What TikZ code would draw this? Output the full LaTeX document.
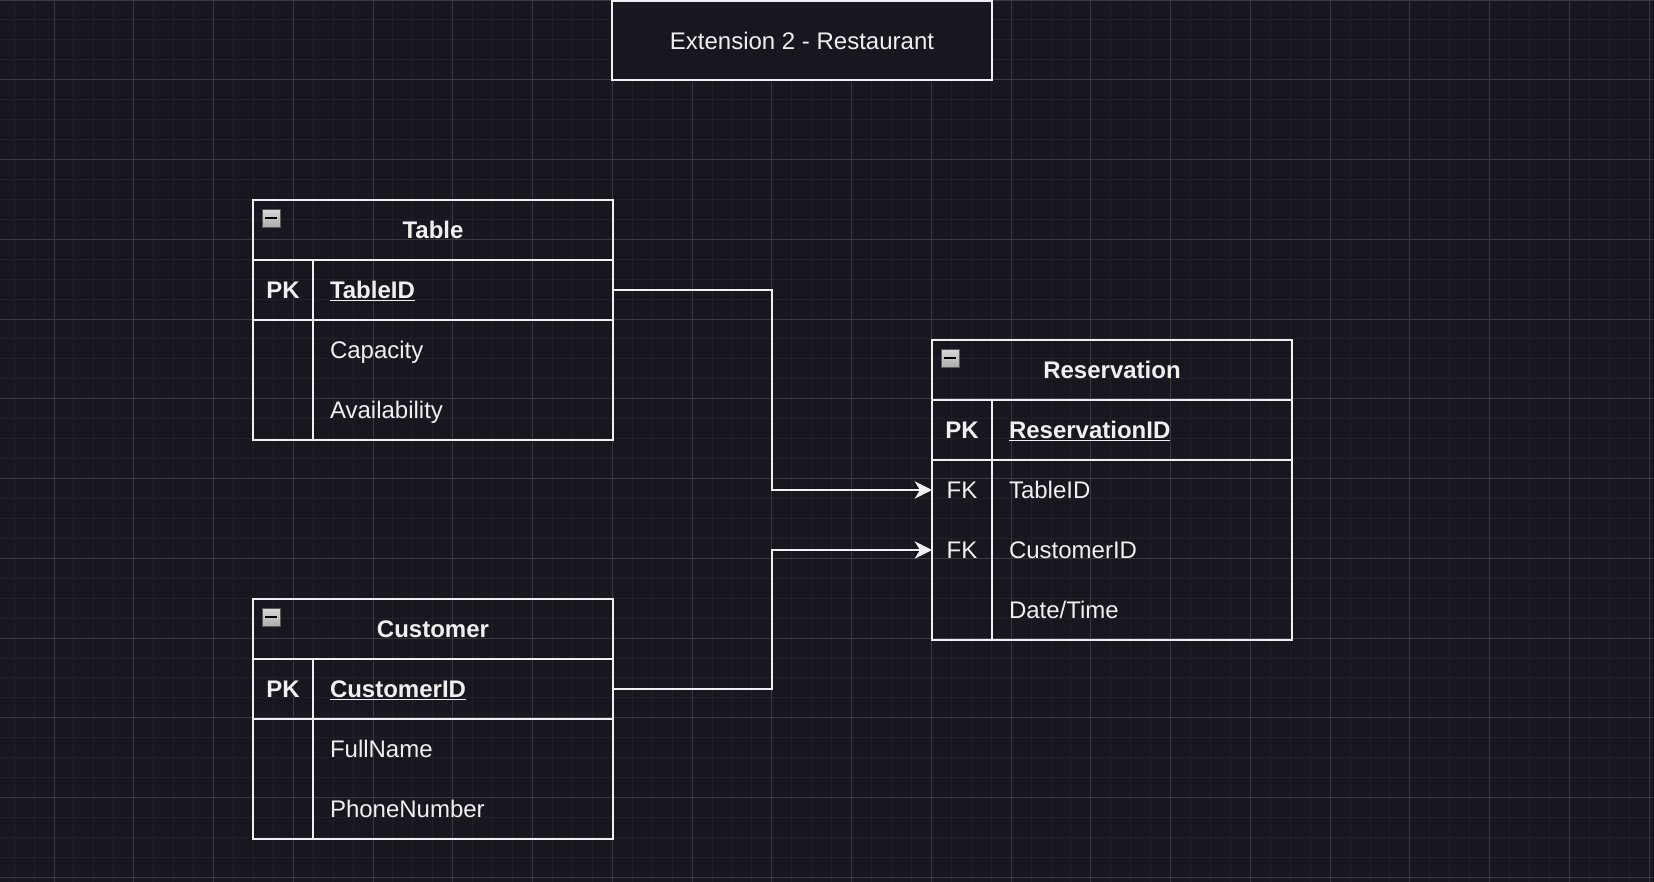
\documentclass[tikz,border=0pt]{standalone}
\usepackage{fontspec}
\setmainfont{Liberation Sans}
\usetikzlibrary{positioning,arrows.meta}
\definecolor{canvas}{HTML}{18161F}
\definecolor{gridfine}{HTML}{212027}
\definecolor{gridbold}{HTML}{3A3941}
\definecolor{ink}{HTML}{F0F0F0}
\newcommand{\pkey}[1]{\underline{\textbf{#1}}}
\newcommand{\collapseicon}[2]{%
  \node[icon, anchor=north west] (#1) at ([shift={(9,9)}]#2.north west) {};
  \draw[black, line width=2.2pt] ([xshift=-4.5pt]#1.center) -- ([xshift=4.5pt]#1.center)}
\newcommand{\fkarrow}[2]{%
  \draw[link] (#1.east) -- (#1.east -| midx) |- (#2.west)}

\begin{document}
\begin{tikzpicture}[x=0.75pt, y=-0.75pt,
    every node/.style={text=ink, outer sep=0pt, font=\fontsize{18}{21}\selectfont},
    frame/.style={draw=ink, line width=1.2pt},
    head/.style={frame, minimum width=270pt, minimum height=45pt, inner sep=0pt,
      text height=15.5pt, text depth=2.6pt, font=\bfseries\fontsize{18}{21}\selectfont},
    keycell/.style={minimum width=45pt, minimum height=45pt, inner sep=0pt,
      text height=15.5pt, text depth=2.6pt},
    namecell/.style={minimum height=45pt, text width=199.5pt, inner xsep=12.75pt,
      inner ysep=0pt, align=left, text height=15.5pt, text depth=2.6pt},
    titlebox/.style={frame, fill=canvas, minimum width=285pt, minimum height=59.25pt},
    icon/.style={draw=gray!70!black, top color=gray!30, bottom color=gray!65,
      minimum size=13.5pt, inner sep=0pt, line width=0.6pt},
    link/.style={draw=ink, line width=1.2pt,
      -{Stealth[length=13pt, width=13pt, inset=4pt]}}]
  \useasboundingbox (0,0) rectangle (1654,882);
  \fill[canvas] (0,0) rectangle (1654,882);
  \begin{scope}
    \clip (0,0) rectangle (1654,882);
    \draw[gridfine, line width=0.75pt, step=14.955pt, xshift=10.59pt] (-40,920) grid (1700,-40);
    \draw[gridbold, line width=0.75pt, step=59.82pt, xshift=40.5pt] (-100,920) grid (1700,-100);
  \end{scope}

  \node[titlebox] (title) at (802,40.5) {Extension 2 - Restaurant};

  % Table
  \node[head, anchor=north west] (tabhead) at (253,200) {Table};
  \collapseicon{tabicon}{tabhead};
  \node[keycell, frame, below right=0pt and 0pt of tabhead.south west] (tabpk) {\textbf{PK}};
  \node[namecell, frame, right=0pt of tabpk] (tabid) {\pkey{TableID}};
  \node[keycell, below=0pt of tabpk] (tabk2) {};
  \node[namecell, right=0pt of tabk2] (tabcap) {Capacity};
  \node[keycell, below=0pt of tabk2] (tabk3) {};
  \node[namecell, right=0pt of tabk3] (tabavail) {Availability};
  \draw[frame] (tabk2.north west) rectangle (tabavail.south east);
  \draw[frame] (tabk2.north east) -- (tabk3.south east);

  % Customer
  \node[head, anchor=north west] (cushead) at (253,599) {Customer};
  \collapseicon{cusicon}{cushead};
  \node[keycell, frame, below right=0pt and 0pt of cushead.south west] (cuspk) {\textbf{PK}};
  \node[namecell, frame, right=0pt of cuspk] (cusid) {\pkey{CustomerID}};
  \node[keycell, below=0pt of cuspk] (cusk2) {};
  \node[namecell, right=0pt of cusk2] (cusname) {FullName};
  \node[keycell, below=0pt of cusk2] (cusk3) {};
  \node[namecell, right=0pt of cusk3] (cusphone) {PhoneNumber};
  \draw[frame] (cusk2.north west) rectangle (cusphone.south east);
  \draw[frame] (cusk2.north east) -- (cusk3.south east);

  % Reservation
  \node[head, anchor=north west] (reshead) at (932,340) {Reservation};
  \collapseicon{resicon}{reshead};
  \node[keycell, frame, below right=0pt and 0pt of reshead.south west] (respk) {\textbf{PK}};
  \node[namecell, frame, right=0pt of respk] (resid) {\pkey{ReservationID}};
  \node[keycell, below=0pt of respk] (resfktab) {FK};
  \node[namecell, right=0pt of resfktab] (restab) {TableID};
  \node[keycell, below=0pt of resfktab] (resfkcus) {FK};
  \node[namecell, right=0pt of resfkcus] (rescus) {CustomerID};
  \node[keycell, below=0pt of resfkcus] (resk4) {};
  \node[namecell, right=0pt of resk4] (restime) {Date/Time};
  \draw[frame] (resfktab.north west) rectangle (restime.south east);
  \draw[frame] (resfktab.north east) -- (resk4.south east);

  \coordinate (midx) at (772,0);
  \fkarrow{tabid}{resfktab};
  \fkarrow{cusid}{resfkcus};
\end{tikzpicture}
\end{document}
